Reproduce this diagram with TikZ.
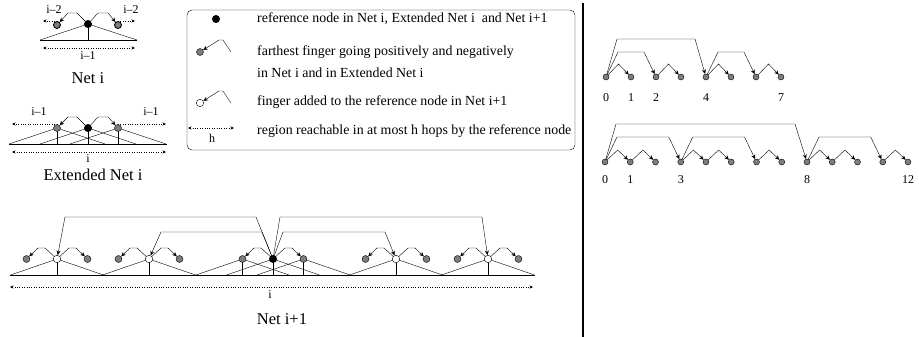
\documentclass[tikz,border=0pt]{standalone}
\usepackage{fontspec}
\setmainfont{Liberation Serif}
\usetikzlibrary{arrows.meta,backgrounds,calc}
\definecolor{nodegray}{RGB}{125,125,125}
\begin{document}
\begin{tikzpicture}[x=1pt,y=-1pt,line width=0.85pt,
  refn/.style={circle,fill=black,inner sep=0pt,minimum size=8pt},
  grayn/.style={circle,draw,fill=nodegray,inner sep=0pt,minimum size=7pt},
  whiten/.style={circle,draw,fill=white,inner sep=0pt,minimum size=7.5pt},
  smalln/.style={circle,draw,fill=nodegray,inner sep=0pt,minimum size=6pt},
  fing/.style={-{Stealth[length=4.5pt,width=4pt]}},
  reach/.style={dotted,{Stealth[length=3.5pt,width=3pt]}-{Stealth[length=3.5pt,width=3pt]}},
  reachone/.style={dotted,-{Stealth[length=3.5pt,width=3pt]}},
  lbl/.style={font=\fontsize{12}{14}\selectfont,inner sep=0pt},
  ttl/.style={font=\fontsize{16.5}{18}\selectfont,inner sep=0pt},
  leg/.style={font=\fontsize{13.9}{15}\selectfont,anchor=west,inner sep=0pt},
  num/.style={font=\fontsize{12}{14}\selectfont,inner sep=0pt}]
\useasboundingbox (0,0) rectangle (919,337);

% ---------------- Net i ----------------
\node[refn] (a0) at (88,24) {};
\node[grayn] (aL) at (57,25) {};
\node[grayn] (aR) at (118,25) {};
\node[lbl] at (54,9.5) {i–2};
\node[lbl] at (131,9.5) {i–2};
\node[lbl] at (88,56) {i–1};
\node[ttl] at (88,78) {Net i};
\begin{pgfonlayer}{background}
\draw[fing] (a0.center) -- (77,13) -- (68,13) -- (aL);
\draw[fing] (a0.center) -- (98,13) -- (108,13) -- (aR);
\draw[reachone] (57,21) -- (43,21);
\draw[reachone] (118,21) -- (135,21);
\draw (40,40) -- (137,40);
\draw (40,40) -- (a0.center) -- (137,40);
\draw (a0.center) -- (88,40);
\draw[reach] (43,48) -- (135,48);
\end{pgfonlayer}

% ---------------- Extended Net i ----------------
\node[refn] (b0) at (88,128) {};
\node[grayn] (bL) at (57,128) {};
\node[grayn] (bR) at (118,128) {};
\node[lbl] at (39,112) {i–1};
\node[lbl] at (151,112) {i–1};
\node[lbl] at (88,159) {i};
\node[ttl] at (93,175) {Extended Net i};
\begin{pgfonlayer}{background}
\draw[fing] (b0.center) -- (77,117) -- (68,117) -- (bL);
\draw[fing] (b0.center) -- (98,117) -- (108,117) -- (bR);
\draw[reachone] (57,124) -- (12,124);
\draw[reachone] (118,124) -- (166,124);
\draw (9,144) -- (167,144);
\foreach \n/\x in {bL/57,b0/88,bR/118}{
  \draw (\x-48,144) -- (\n.center) -- (\x+48,144);
  \draw (\n.center) -- (\x,144);
}
\draw[reach] (12,152) -- (166,152);
\end{pgfonlayer}

% ---------------- Legend ----------------
\draw[rounded corners=5pt] (187,10) rectangle (575,150);
\node[refn] (l1) at (216,19) {};
\node[grayn] (l2) at (200,52) {};
\node[whiten] (l3) at (200,103) {};
\coordinate (l2e) at (231,52);
\coordinate (l3e) at (231,103);
\draw[fing] (l2e) -- (223,40) -- (219,40) -- (l2);
\draw[fing] (l3e) -- (223,91) -- (219,91) -- (l3);
\draw[reach] (188,128) -- (234,128);
\node[lbl] at (212,138) {h};
\node[leg] at (257,19) {reference node in Net i, Extended Net i\ \ and Net i+1};
\node[leg] at (257,52) {farthest finger going positively and negatively};
\node[leg] at (257,73) {in Net i and in Extended Net i};
\node[leg] at (257,102) {finger added to the reference node in Net i+1};
\node[leg] at (257,131) {region reachable in at most h hops by the reference node};

% ---------------- Net i+1 ----------------
\node[whiten] (w1) at (57,259) {};
\node[whiten] (w2) at (149,259) {};
\node[refn] (r2) at (273,259) {};
\node[whiten] (w3) at (396,259) {};
\node[whiten] (w4) at (488,259) {};
\foreach \n/\x in {w1/57,w2/149,r2/273,w3/396,w4/488}{
  \node[grayn] (\n L) at (\x-30.5,259) {};
  \node[grayn] (\n R) at (\x+30.5,259) {};
}
\node[lbl] at (270,295) {i};
\node[ttl] at (282,319) {Net i+1};
\begin{pgfonlayer}{background}
\foreach \n in {w1,w2,r2,w3,w4}{
  \draw[fing] (\n.center) -- ++(-12,-11) -- ++(-7,0) -- (\n L);
  \draw[fing] (\n.center) -- ++(12,-11) -- ++(7,0) -- (\n R);
}
\draw[fing] (r2.center) -- (256,217) -- (65,217) -- (w1);
\draw[fing] (r2.center) -- (262,232) -- (161,232) -- (w2);
\draw[fing] (r2.center) -- (283,232) -- (385,232) -- (w3);
\draw[fing] (r2.center) -- (280,217) -- (482,217) -- (w4);
\draw (10,275) -- (535,275);
\foreach \n/\x in {w1/57,w2/149,r2L/242.5,r2/273,r2R/303.5,w3/396,w4/488}{
  \draw (\x-46.5,275) -- (\n.center) -- (\x+46.5,275);
  \draw (\n.center) -- (\x,275);
}
\draw[reach] (10,287) -- (533,287);
\end{pgfonlayer}

% ---------------- divider ----------------
\draw[line width=2pt] (583,3) -- (583,337);

% ---------------- top right ----------------
\foreach \k in {0,...,7}{ \node[smalln] (t\k) at ({606+25*\k},77) {}; }
\foreach \k/\lab in {0/0,1/1,2/2,4/4,7/7}{ \node[num] at ({606+25*\k},98) {\lab}; }
\begin{pgfonlayer}{background}
\foreach \k in {0,2,4,6}{
  \pgfmathtruncatemacro\j{\k+1}
  \draw[fing] (t\k.center) -- ($(t\k)!.5!(t\j)+(0,-13)$) -- (t\j);
}
\draw[fing] (t0.center) -- ++(12,-25) -- ($(t2)+(-12,-25)$) -- (t2);
\draw[fing] (t0.center) -- ++(11,-38) -- ($(t4)+(-11,-38)$) -- (t4);
\draw[fing] (t4.center) -- ++(12,-25) -- ($(t6)+(-12,-25)$) -- (t6);
\end{pgfonlayer}

% ---------------- bottom right ----------------
\foreach \k in {0,...,12}{ \node[smalln] (u\k) at ({605+25.25*\k},162) {}; }
\foreach \k/\lab in {0/0,1/1,3/3,8/8,12/12}{ \node[num] at ({605+25.25*\k},180) {\lab}; }
\begin{pgfonlayer}{background}
\foreach \k in {0,1,3,4,6,8,9,11}{
  \pgfmathtruncatemacro\j{\k+1}
  \draw[fing] (u\k.center) -- ($(u\k)!.5!(u\j)+(0,-12)$) -- (u\j);
}
\draw[fing] (u0.center) -- ++(12,-25) -- ($(u3)+(-12,-25)$) -- (u3);
\draw[fing] (u0.center) -- ++(11,-38) -- ($(u8)+(-12,-38)$) -- (u8);
\draw[fing] (u3.center) -- ++(12,-25) -- ($(u6)+(-12,-25)$) -- (u6);
\draw[fing] (u8.center) -- ++(12,-25) -- ($(u11)+(-12,-25)$) -- (u11);
\end{pgfonlayer}
\end{tikzpicture}
\end{document}
